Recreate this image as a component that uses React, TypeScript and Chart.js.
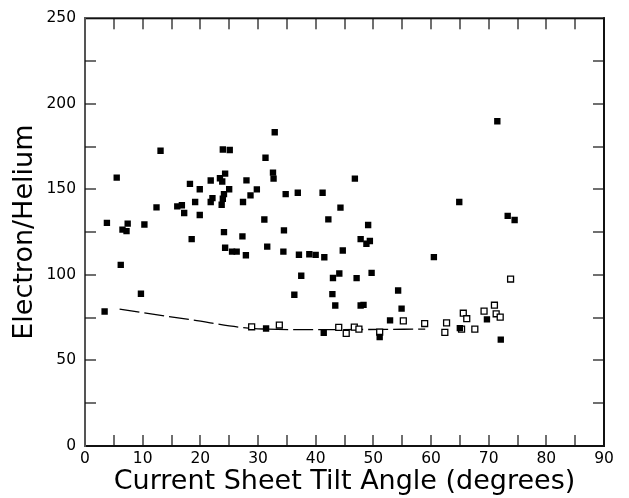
import { useEffect, useRef } from "react";
import { Chart, registerables } from "chart.js";

Chart.register(...registerables);

// Filled squares: tilt angle (degrees) and electron/helium ratio
const filledTilt = [
  3.4, 3.8, 5.5, 6.2, 6.5, 7.2, 7.4, 9.7, 10.3, 12.4, 13.1, 16.0, 16.8, 17.2, 18.2, 18.5,
  19.1, 19.9, 19.9, 21.8, 21.8, 22.1, 23.4, 23.8, 23.9, 25.1, 24.3, 25.0, 24.1, 23.9, 23.7,
  24.1, 24.3, 25.5, 26.3, 27.9, 27.3, 27.4, 28.0, 28.7, 29.8, 31.1, 31.3, 31.6, 32.6, 32.7,
  32.9, 34.4, 34.5, 34.8, 36.9, 37.1, 37.5, 36.3, 38.9, 40.0, 41.2, 41.5, 42.2, 42.9, 43.0,
  44.1, 44.3, 44.7, 46.8, 47.1, 47.8, 48.8, 49.4, 49.1, 49.7, 43.4, 47.8, 48.3, 54.3, 54.9,
  52.9, 31.4, 41.4, 51.1, 60.5, 64.9, 73.3, 74.5, 71.5, 65.0, 72.1, 69.7,
];
const filledRatio = [
  78.6, 130.4, 156.9, 105.9, 126.5, 125.6, 130.0, 89.0, 129.5, 139.5, 172.6, 140.1, 140.7,
  136.2, 153.2, 120.9, 142.6, 150.1, 135.0, 155.2, 142.6, 144.9, 156.5, 154.6, 173.3, 173.0,
  159.2, 150.1, 147.2, 144.5, 141.0, 125.0, 115.9, 113.6, 113.6, 111.5, 122.5, 142.6, 155.3,
  146.5, 150.0, 132.4, 168.5, 116.5, 159.8, 156.3, 183.4, 113.6, 126.0, 147.2, 148.0, 111.8,
  99.5, 88.4, 112.1, 111.7, 148.0, 110.3, 132.5, 88.8, 98.2, 100.8, 139.3, 114.3, 156.3, 98.1,
  120.9, 118.2, 119.8, 129.2, 101.2, 82.1, 82.1, 82.5, 90.9, 80.3, 73.4, 68.7, 66.2, 63.7,
  110.4, 142.6, 134.5, 132.1, 189.8, 68.9, 62.2, 74.0,
];

// Open squares
const openTilt = [
  28.9, 33.7, 44.0, 45.3, 46.7, 47.5, 51.1, 55.2, 58.9, 62.7, 62.4, 65.3, 67.6, 65.6, 66.2,
  69.2, 71.0, 71.3, 72.0, 73.8,
];
const openRatio = [
  69.7, 70.7, 69.3, 65.8, 69.5, 68.3, 66.6, 73.1, 71.6, 72.0, 66.4, 68.3, 68.3, 77.6, 74.4,
  78.8, 82.3, 77.3, 75.3, 97.6,
];

// Dashed trend curve
const curveTilt = [6, 18, 30, 40, 59];
const curveRatio = [80, 74, 68.5, 68, 68.3];

// Labelled tick values
const xTickLabels = [0, 10, 20, 30, 40, 50, 60, 70, 80, 90];
const yTickLabels = [0, 50, 100, 150, 200, 250];

const xTitle = "Current Sheet Tilt Angle (degrees)";
const yTitle = "Electron/Helium";

const FONT = "'DejaVu Sans', sans-serif";

const pairs = (xs: number[], ys: number[]) => xs.map((x, i) => ({ x, y: ys[i] }));

export default function App() {
  const canvasRef = useRef<HTMLCanvasElement | null>(null);

  useEffect(() => {
    const canvas = canvasRef.current;
    if (!canvas) return;

    // Closed frame with inward tick marks on all four sides
    const frame = {
      id: "frame",
      afterDraw(chart: any) {
        const ctx = chart.ctx;
        const { left, right, top, bottom } = chart.chartArea;
        const xs = chart.scales.x;
        const ys = chart.scales.y;
        const len = 11;
        ctx.save();
        ctx.fillStyle = "#111";
        ctx.fillRect(left - 1, bottom - 1, right - left + 2, 2);
        ctx.fillRect(left - 1, top - 1, right - left + 2, 2);
        ctx.fillRect(right - 1, top - 1, 2, bottom - top + 2);
        ctx.fillStyle = "#555";
        ctx.fillRect(left - 1, top - 1, 2, bottom - top + 2);
        ctx.fillStyle = "#111";
        for (const t of xs.ticks) {
          const px = Math.round(xs.getPixelForValue(t.value));
          if (px <= left + 1 || px >= right - 1) continue;
          ctx.fillRect(px - 0.6, bottom - len, 1.2, len);
          ctx.fillRect(px - 0.6, top, 1.2, len);
        }
        for (const t of ys.ticks) {
          const py = Math.round(ys.getPixelForValue(t.value));
          if (py <= top + 1 || py >= bottom - 1) continue;
          ctx.fillRect(left, py - 0.6, len, 1.2);
          ctx.fillRect(right - len, py - 0.6, len, 1.2);
        }
        ctx.restore();
      },
    };

    const chart = new Chart(canvas, {
      type: "scatter",
      data: {
        datasets: [
          {
            label: "filled",
            data: pairs(filledTilt, filledRatio),
            pointStyle: "rect",
            pointRadius: 4.5,
            backgroundColor: "#000",
            borderWidth: 0,
            order: 1,
          },
          {
            label: "open",
            data: pairs(openTilt, openRatio),
            pointStyle: "rect",
            pointRadius: 4.2,
            backgroundColor: "#fff",
            borderColor: "#000",
            borderWidth: 1.3,
            order: 2,
          },
          {
            type: "line",
            label: "curve",
            data: pairs(curveTilt, curveRatio),
            borderColor: "#000",
            borderWidth: 1.3,
            borderDash: [20, 5],
            pointRadius: 0,
            cubicInterpolationMode: "monotone",
            fill: false,
            order: 3,
          } as any,
        ],
      },
      options: {
        animation: false,
        responsive: false,
        devicePixelRatio: 1,
        layout: { padding: { top: 15, right: 25, left: 0, bottom: 0 } },
        plugins: {
          legend: { display: false },
          tooltip: { enabled: false },
        },
        scales: {
          x: {
            type: "linear",
            min: 0,
            max: 90,
            grid: { display: false, drawTicks: false },
            border: { display: false },
            ticks: {
              stepSize: 5,
              autoSkip: false,
              maxRotation: 0,
              padding: 4,
              color: "#000",
              font: { family: FONT, size: 15.5 },
              callback: (v: any) => (xTickLabels.includes(Number(v)) ? String(v) : ""),
            },
            title: {
              display: true,
              text: xTitle,
              color: "#000",
              font: { family: FONT, size: 27, lineHeight: 1.2 },
              padding: { top: 0, bottom: 0 },
            },
            afterFit: (s: any) => {
              s.height = 52;
            },
          },
          y: {
            type: "linear",
            min: 0,
            max: 250,
            grid: { display: false, drawTicks: false },
            border: { display: false },
            ticks: {
              stepSize: 25,
              autoSkip: false,
              padding: 9,
              color: "#000",
              font: { family: FONT, size: 15.5 },
              callback: (v: any) => (yTickLabels.includes(Number(v)) ? String(v) : ""),
            },
            title: {
              display: true,
              text: yTitle,
              color: "#000",
              font: { family: FONT, size: 27, lineHeight: 1.2 },
              padding: { top: 9, bottom: 0 },
            },
            afterFit: (s: any) => {
              s.width = 85;
            },
          },
        },
      },
      plugins: [frame],
    });
    return () => chart.destroy();
  }, []);

  return (
    <div style={{ position: "fixed", left: 0, top: 0, width: 629, height: 498, background: "#fff" }}>
      <canvas ref={canvasRef} width={629} height={498} />
    </div>
  );
}
